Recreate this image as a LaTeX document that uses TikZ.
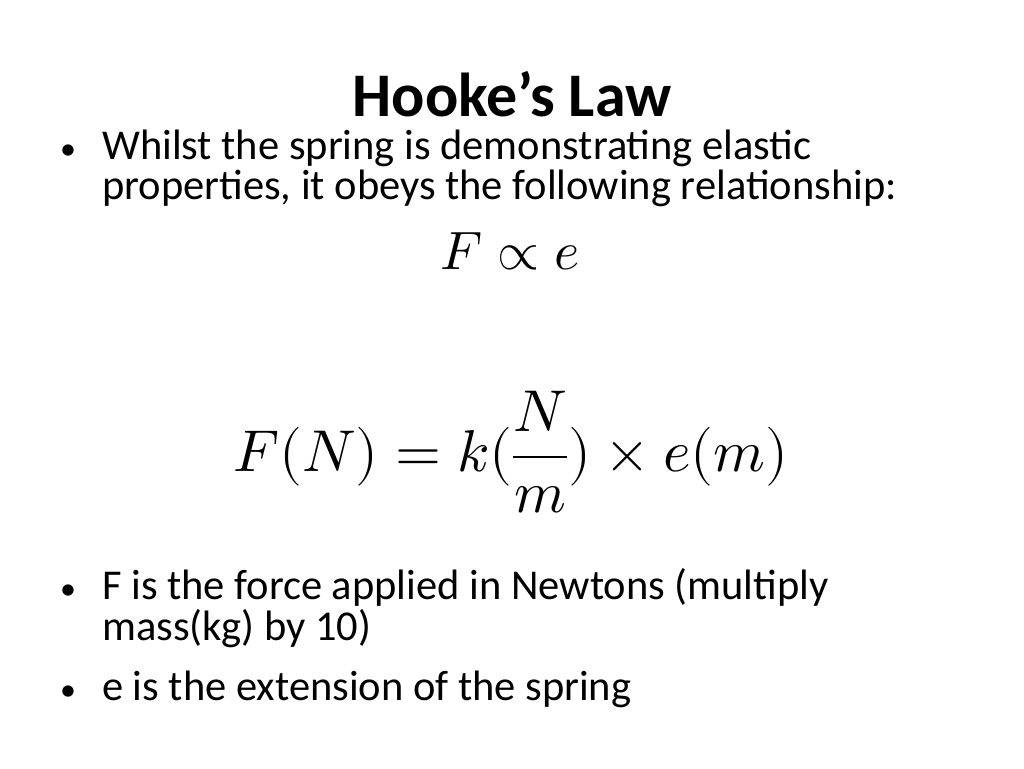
\documentclass[tikz,border=0pt]{standalone}
\usepackage{fontspec}
\usepackage{unicode-math}
\setmainfont{Carlito}
\setmathfont{Latin Modern Math}
\begin{document}
\begin{tikzpicture}[x=1pt,y=1pt,
  body/.style={anchor=base west,inner sep=0pt,font=\fontsize{42.5}{48}\selectfont},
  bul/.style={anchor=base west,inner sep=0pt,font=\fontsize{32}{40}\selectfont}]
\useasboundingbox[fill=white] (0,0) rectangle (1024,768);
\node[anchor=base,inner sep=0pt,font=\bfseries\fontsize{62}{70}\selectfont] (title) at (512,768-117) {Hooke’s Law};
\node[bul] (b1) at (60,768-160) {•};
\node[body] (t1) at (102,768-160) {Whilst the spring is demonstrating elastic};
\node[body] (t2) at (102,768-200) {properties, it obeys the following relationship:};
\node[anchor=base,inner sep=0pt,font=\fontsize{54}{60}\selectfont] (f1) at (510,768-270) {$F \propto e$};
\node[inner sep=0pt,font=\fontsize{59}{66}\selectfont] (f2) at (511,768-452) {$F(N) = k(\dfrac{N}{m}) \times e(m)$};
\node[bul] (b2) at (60,768-600) {•};
\node[body] (t3) at (102,768-600) {F is the force applied in Newtons (multiply};
\node[body] (t4) at (102,768-640) {mass(kg) by 10)};
\node[bul] (b3) at (60,768-700) {•};
\node[body] (t5) at (102,768-700) {e is the extension of the spring};
\end{tikzpicture}
\end{document}
